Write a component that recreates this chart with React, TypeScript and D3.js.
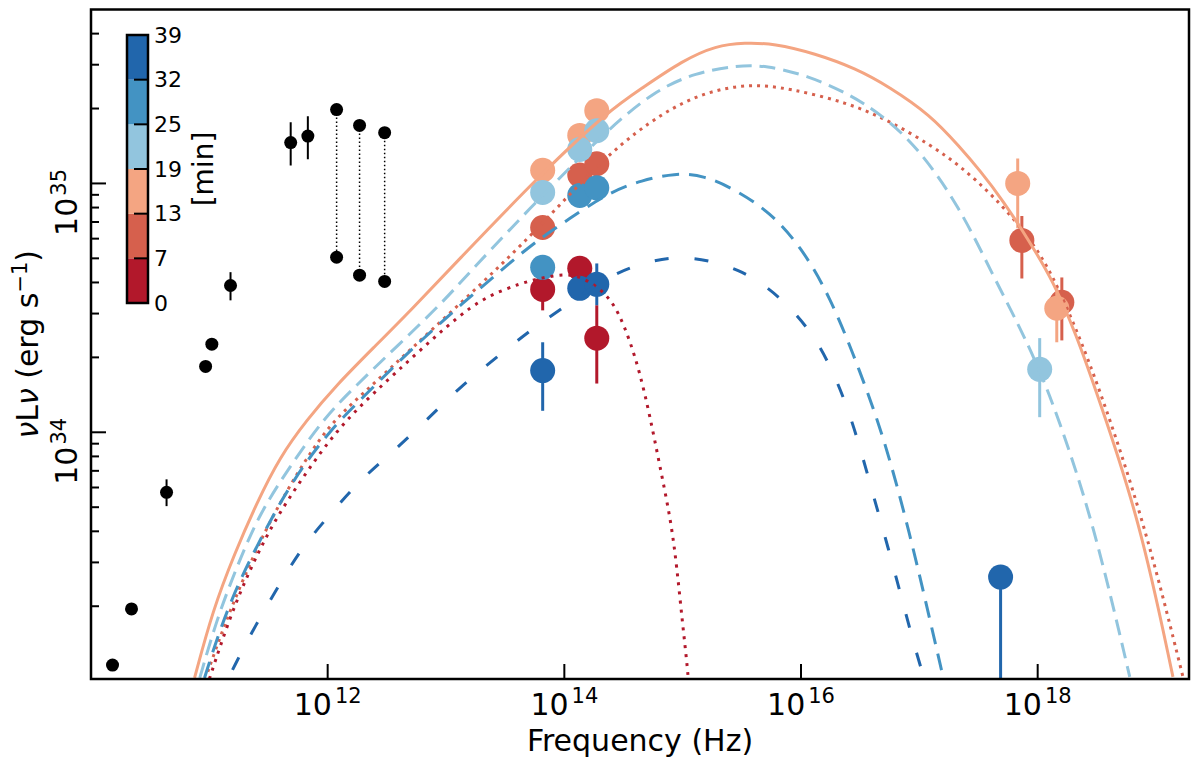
import * as d3 from 'd3';
import React, { useEffect, useRef } from 'react';

// colour bar bins (minutes) and their colours
const binEdges = [0, 7, 13, 19, 25, 32, 39];
const binColors = ['#b2182b', '#d6604d', '#f4a582', '#92c5de', '#4393c3', '#2166ac'];

// archival black points
const blackNu = [1.52e10, 2.2e10, 4.35e10, 9.3e10, 1.05e11, 1.51e11, 4.87e11, 6.8e11];
const blackL = [1.16e33, 1.95e33, 5.74e33, 1.84e34, 2.26e34, 3.89e34, 1.46e35, 1.55e35];
const blackLo = [1.16e33, 1.95e33, 5.05e33, 1.84e34, 2.26e34, 3.39e34, 1.18e35, 1.25e35];
const blackHi = [1.16e33, 1.95e33, 6.47e33, 1.84e34, 2.26e34, 4.4e34, 1.76e35, 1.86e35];

// black pairs joined by dotted lines
const pairNu = [1.19e12, 1.86e12, 3.03e12];
const pairHigh = [1.98e35, 1.71e35, 1.6e35];
const pairLow = [5.05e34, 4.28e34, 4.04e34];

// coloured points: bin index, frequency, nuLnu, error range
const ptBin = [0, 0, 0, 1, 1, 1, 1, 1, 2, 2, 2, 2, 2, 3, 3, 3, 3, 4, 4, 4, 5, 5, 5, 5];
const ptNu = [6.56e13, 1.35e14, 1.88e14, 6.56e13, 1.35e14, 1.88e14, 7.35e17, 1.6e18,
  6.56e13, 1.35e14, 1.88e14, 6.78e17, 1.45e18, 6.56e13, 1.35e14, 1.88e14, 1.04e18,
  6.56e13, 1.35e14, 1.88e14, 6.56e13, 1.35e14, 1.88e14, 4.86e17];
const ptL = [3.75e34, 4.56e34, 2.39e34, 6.65e34, 1.08e35, 1.2e35, 5.9e34, 3.33e34,
  1.13e35, 1.56e35, 1.96e35, 1.0e35, 3.15e34, 9.2e34, 1.37e35, 1.63e35, 1.79e34,
  4.6e34, 8.95e34, 9.6e34, 1.77e34, 3.79e34, 3.93e34, 2.62e33];
const ptLo = [3.09e34, 4.56e34, 1.57e34, 6.65e34, 1.08e35, 1.2e35, 4.15e34, 2.34e34,
  1.13e35, 1.56e35, 1.96e35, 6.6e34, 2.3e34, 9.2e34, 1.37e35, 1.63e35, 1.15e34,
  4.6e34, 8.95e34, 9.6e34, 1.22e34, 3.79e34, 3.24e34, 1e32];
const ptHi = [4.3e34, 4.56e34, 3.24e34, 6.65e34, 1.08e35, 1.2e35, 7.4e34, 4.19e34,
  1.13e35, 1.56e35, 1.96e35, 1.26e35, 3.82e34, 9.2e34, 1.37e35, 1.63e35, 2.39e34,
  4.6e34, 8.95e34, 9.6e34, 2.3e34, 3.79e34, 4.77e34, 2.62e33];

// model curves, one per bin
const modelNu0 = [1.0e11, 1.49e11, 2.19e11, 3.43e11, 6.15e11, 1.19e12, 2.4e12, 6.0e12, 1.68e13, 3.26e13, 5.11e13, 8.3e13, 1.22e14, 1.81e14, 2.42e14, 2.94e14, 3.57e14, 4.34e14, 5.27e14, 6.4e14, 7.93e14, 8.9e14, 1.0e15, 1.1e15, 1.15e15];
const modelL0 = [1.02e33, 1.81e33, 2.79e33, 4.31e33, 6.59e33, 1.02e34, 1.43e34, 2.13e34, 3.3e34, 3.79e34, 4.07e34, 4.28e34, 4.32e34, 3.93e34, 3.45e34, 2.95e34, 2.34e34, 1.74e34, 1.17e34, 7.36e33, 4.44e33, 2.92e33, 1.68e33, 1.13e33, 8.4e32];

const modelNu1 = [9.7e10, 1.29e11, 1.91e11, 3.05e11, 5.06e11, 9.8e11, 1.98e12, 4.65e12, 1.14e13, 2.85e13, 6.56e13, 2.37e14, 6.79e14, 1.51e15, 3.62e15, 8.04e15, 2.49e16, 5.53e16, 1.23e17, 2.2e17, 4.18e17, 8.11e17, 1.35e18, 2.14e18, 3.17e18, 7.9e18, 1.69e19];
const modelL1 = [1.09e33, 1.6e33, 2.55e33, 4.15e33, 6.41e33, 1.05e34, 1.43e34, 2.08e34, 3.09e34, 4.65e34, 6.9e34, 1.33e35, 1.93e35, 2.32e35, 2.52e35, 2.41e35, 2.11e35, 1.79e35, 1.43e35, 1.18e35, 8.95e34, 6.28e34, 4.28e34, 2.55e34, 1.6e34, 4.44e33, 1.04e33];

const modelNu2 = [7.5e10, 1.07e11, 1.64e11, 2.51e11, 3.93e11, 6.64e11, 1.19e12, 2.4e12, 5.24e12, 1.14e13, 6.56e13, 2.37e14, 4.51e14, 1.0e15, 1.91e15, 3.35e15, 5.89e15, 1.31e16, 2.9e16, 5.53e16, 1.23e17, 2.2e17, 3.24e17, 5.08e17, 8.11e17, 1.35e18, 2.14e18, 3.17e18, 7.3e18, 1.39e19];
const modelL2 = [1.03e33, 1.93e33, 3.27e33, 5.19e33, 7.94e33, 1.12e34, 1.55e34, 2.17e34, 3.15e34, 4.66e34, 1.11e35, 1.96e35, 2.41e35, 3.12e35, 3.58e35, 3.68e35, 3.65e35, 3.33e35, 2.9e35, 2.45e35, 1.89e35, 1.4e35, 1.13e35, 8.55e34, 6.07e34, 4.07e34, 2.44e34, 1.43e34, 4.44e33, 1.04e33];

const modelNu3 = [8.3e10, 1.15e11, 1.7e11, 2.66e11, 4.77e11, 9.1e11, 1.76e12, 3.83e12, 9.4e12, 1.58e13, 6.56e13, 2.37e14, 5.81e14, 1.29e15, 2.87e15, 5.05e15, 1.12e16, 2.49e16, 4.73e16, 9.7e16, 2.2e17, 4.18e17, 7.08e17, 1.04e18, 1.45e18, 2.93e18, 6.0e18];
const modelL3 = [1.03e33, 1.76e33, 2.87e33, 4.73e33, 7.23e33, 1.13e34, 1.55e34, 2.21e34, 3.33e34, 4.4e34, 9.0e34, 1.66e35, 2.36e35, 2.79e35, 2.98e35, 2.98e35, 2.72e35, 2.3e35, 1.9e35, 1.4e35, 8.02e34, 4.28e34, 2.64e34, 1.77e34, 1.19e34, 4.44e33, 1.04e33];

const modelNu4 = [9.1e10, 1.22e11, 1.8e11, 3.05e11, 5.06e11, 1.04e12, 2.14e12, 5.24e12, 1.38e13, 3.66e13, 6.2e13, 1.05e14, 2.37e14, 4.51e14, 8.58e14, 1.51e15, 2.87e15, 5.46e15, 9.8e15, 1.75e16, 3.14e16, 5.11e16, 8.3e16, 1.23e17, 1.61e17];
const modelL4 = [1.03e33, 1.6e33, 2.55e33, 4.15e33, 6.41e33, 1.02e34, 1.43e34, 2.19e34, 3.3e34, 4.91e34, 6.0e34, 7.1e34, 9.2e34, 1.03e35, 1.1e35, 1.08e35, 9.37e34, 7.66e34, 5.64e34, 3.55e34, 1.77e34, 9.3e33, 3.93e33, 1.76e33, 1.01e33];

const modelNu5 = [1.57e11, 2.32e11, 3.56e11, 5.8e11, 1.0e12, 1.86e12, 3.54e12, 6.88e12, 1.31e13, 2.68e13, 5.41e13, 1.11e14, 2.42e14, 5.27e14, 1.15e15, 3.04e15, 6.62e15, 1.44e16, 2.59e16, 3.82e16, 5.53e16, 7.54e16, 9.3e16, 1.11e17];
const modelL5 = [1.11e33, 1.6e33, 2.26e33, 3.36e33, 4.56e33, 6.41e33, 8.32e33, 1.12e34, 1.52e34, 2.0e34, 2.62e34, 3.3e34, 4.28e34, 4.91e34, 5.14e34, 4.56e34, 3.55e34, 2.34e34, 1.22e34, 6.24e33, 3.36e33, 1.93e33, 1.33e33, 1.01e33];

const models = [
  { nu: modelNu0, l: modelL0, dash: '3,6' },
  { nu: modelNu1, l: modelL1, dash: '3,5' },
  { nu: modelNu2, l: modelL2, dash: null },
  { nu: modelNu3, l: modelL3, dash: '16,8' },
  { nu: modelNu4, l: modelL4, dash: '17,10' },
  { nu: modelNu5, l: modelL5, dash: '14,26' },
];

// ticks
const xMajorTicks = [1e12, 1e14, 1e16, 1e18];
const yMajorTicks = [1e34, 1e35];
const yMinorTicks = [2e33, 3e33, 4e33, 5e33, 6e33, 7e33, 8e33, 9e33, 2e34, 3e34, 4e34, 5e34, 6e34, 7e34, 8e34, 9e34, 2e35, 3e35, 4e35];

const W = 1200;
const H = 767;
const plot = { left: 91, right: 1189, top: 9.5, bottom: 679 };
const font = 'DejaVu Sans, sans-serif';

const SedChart = () => {
  const ref = useRef<SVGSVGElement | null>(null);

  useEffect(() => {
    if (!ref.current) return;
    const svg = d3.select(ref.current);
    svg.selectAll('*').remove();

    const x = d3.scaleLog().domain([1e10, 1.9e19]).range([plot.left, plot.right]);
    const y = d3.scaleLog().domain([1.02e33, 5e35]).range([plot.bottom, plot.top]);

    svg.append('rect').attr('width', W).attr('height', H).attr('fill', '#fff');

    svg.append('defs').append('clipPath').attr('id', 'plot-clip')
      .append('rect')
      .attr('x', plot.left).attr('y', plot.top)
      .attr('width', plot.right - plot.left).attr('height', plot.bottom - plot.top);

    const g = svg.append('g').attr('clip-path', 'url(#plot-clip)');

    // black archival points
    pairNu.forEach((nu, i) => {
      g.append('line')
        .attr('x1', x(nu)).attr('x2', x(nu))
        .attr('y1', y(pairHigh[i])).attr('y2', y(pairLow[i]))
        .attr('stroke', '#000').attr('stroke-width', 1.5).attr('stroke-dasharray', '1.5,2.5');
    });
    blackNu.forEach((nu, i) => {
      if (blackHi[i] > blackLo[i]) {
        g.append('line')
          .attr('x1', x(nu)).attr('x2', x(nu))
          .attr('y1', y(blackLo[i])).attr('y2', y(blackHi[i]))
          .attr('stroke', '#000').attr('stroke-width', 2);
      }
    });
    const blackAll = blackNu.map((nu, i) => [nu, blackL[i]])
      .concat(pairNu.map((nu, i) => [nu, pairHigh[i]]))
      .concat(pairNu.map((nu, i) => [nu, pairLow[i]]));
    g.selectAll('.black-pt').data(blackAll).enter().append('circle')
      .attr('class', 'black-pt')
      .attr('cx', (d) => x(d[0])).attr('cy', (d) => y(d[1]))
      .attr('r', 6.5).attr('fill', '#000');

    // coloured points, bin by bin
    for (let b = 0; b < binColors.length; b++) {
      const idx = ptBin.map((v, i) => (v === b ? i : -1)).filter((i) => i >= 0);
      const layer = g.append('g');
      idx.forEach((i) => {
        if (ptHi[i] > ptLo[i]) {
          layer.append('line')
            .attr('x1', x(ptNu[i])).attr('x2', x(ptNu[i]))
            .attr('y1', y(ptLo[i])).attr('y2', y(ptHi[i]))
            .attr('stroke', binColors[b]).attr('stroke-width', 3);
        }
      });
      idx.forEach((i) => {
        layer.append('circle')
          .attr('cx', x(ptNu[i])).attr('cy', y(ptL[i]))
          .attr('r', 12.5).attr('fill', binColors[b]);
      });
    }

    // model curves
    const line = d3.line<number[]>()
      .x((d) => x(d[0]))
      .y((d) => y(d[1]))
      .curve(d3.curveBasis);
    models.forEach((m, b) => {
      const path = g.append('path')
        .datum(m.nu.map((nu, i) => [nu, m.l[i]]))
        .attr('d', line)
        .attr('fill', 'none')
        .attr('stroke', binColors[b])
        .attr('stroke-width', 3);
      if (m.dash) path.attr('stroke-dasharray', m.dash);
    });

    // x ticks
    xMajorTicks.forEach((v) => {
      svg.append('line')
        .attr('x1', x(v)).attr('x2', x(v))
        .attr('y1', plot.bottom).attr('y2', plot.bottom - 15)
        .attr('stroke', '#000').attr('stroke-width', 2);
      const t = svg.append('text')
        .attr('x', x(v)).attr('y', 715)
        .attr('text-anchor', 'middle')
        .attr('font-family', font).attr('font-size', 30);
      t.append('tspan').text('10');
      t.append('tspan').attr('dy', -12).attr('dx', 3).attr('font-size', 21)
        .text(String(Math.round(Math.log10(v))));
    });

    // y ticks
    yMinorTicks.forEach((v) => {
      svg.append('line')
        .attr('x1', plot.left).attr('x2', plot.left + 8)
        .attr('y1', y(v)).attr('y2', y(v))
        .attr('stroke', '#000').attr('stroke-width', 2);
    });
    yMajorTicks.forEach((v) => {
      svg.append('line')
        .attr('x1', plot.left).attr('x2', plot.left + 15)
        .attr('y1', y(v)).attr('y2', y(v))
        .attr('stroke', '#000').attr('stroke-width', 2);
      const t = svg.append('text')
        .attr('transform', `translate(77,${y(v) + 19}) rotate(-90)`)
        .attr('text-anchor', 'middle')
        .attr('font-family', font).attr('font-size', 30);
      t.append('tspan').text('10');
      t.append('tspan').attr('dy', -11).attr('dx', 2).attr('font-size', 21)
        .text(String(Math.round(Math.log10(v))));
    });

    // frame
    svg.append('rect')
      .attr('x', plot.left).attr('y', plot.top)
      .attr('width', plot.right - plot.left).attr('height', plot.bottom - plot.top)
      .attr('fill', 'none').attr('stroke', '#000').attr('stroke-width', 2.5);

    // axis labels
    svg.append('text')
      .attr('x', (plot.left + plot.right) / 2).attr('y', 751)
      .attr('text-anchor', 'middle')
      .attr('font-family', font).attr('font-size', 30)
      .text('Frequency (Hz)');

    const yl = svg.append('text')
      .attr('transform', `translate(38,${(plot.top + plot.bottom) / 2}) rotate(-90)`)
      .attr('text-anchor', 'middle')
      .attr('font-family', font).attr('font-size', 30);
    yl.append('tspan').attr('font-style', 'italic').text('\u03bd');
    yl.append('tspan').text('L');
    yl.append('tspan').attr('font-style', 'italic').text('\u03bd');
    yl.append('tspan').text(' (erg s');
    yl.append('tspan').attr('dy', -11).attr('font-size', 21).text('\u22121');
    yl.append('tspan').attr('dy', 11).text(')');

    // colour bar
    const cb = d3.scalePoint<number>().domain(binEdges).range([303, 35]);
    const cbX = 127;
    const cbW = 21;
    binColors.forEach((c, i) => {
      svg.append('rect')
        .attr('x', cbX).attr('y', cb(binEdges[i + 1]))
        .attr('width', cbW).attr('height', cb(binEdges[i]) - cb(binEdges[i + 1]))
        .attr('fill', c);
    });
    binEdges.forEach((v) => {
      svg.append('line')
        .attr('x1', cbX + cbW - 14).attr('x2', cbX + cbW)
        .attr('y1', cb(v)).attr('y2', cb(v))
        .attr('stroke', '#000').attr('stroke-width', 2);
      svg.append('text')
        .attr('x', 154).attr('y', cb(v))
        .attr('dominant-baseline', 'central')
        .attr('font-family', font).attr('font-size', 22)
        .text(String(v));
    });
    svg.append('rect')
      .attr('x', cbX).attr('y', 35)
      .attr('width', cbW).attr('height', 303 - 35)
      .attr('fill', 'none').attr('stroke', '#000').attr('stroke-width', 2.5);
    svg.append('text')
      .attr('transform', `translate(213,${(35 + 303) / 2}) rotate(-90)`)
      .attr('text-anchor', 'middle')
      .attr('font-family', font).attr('font-size', 28)
      .text('[min]');
  }, []);

  return (
    <svg
      ref={ref}
      width={W}
      height={H}
      style={{ position: 'absolute', left: 0, top: 0, display: 'block' }}
    />
  );
};

export default function App() {
  return <SedChart />;
}
